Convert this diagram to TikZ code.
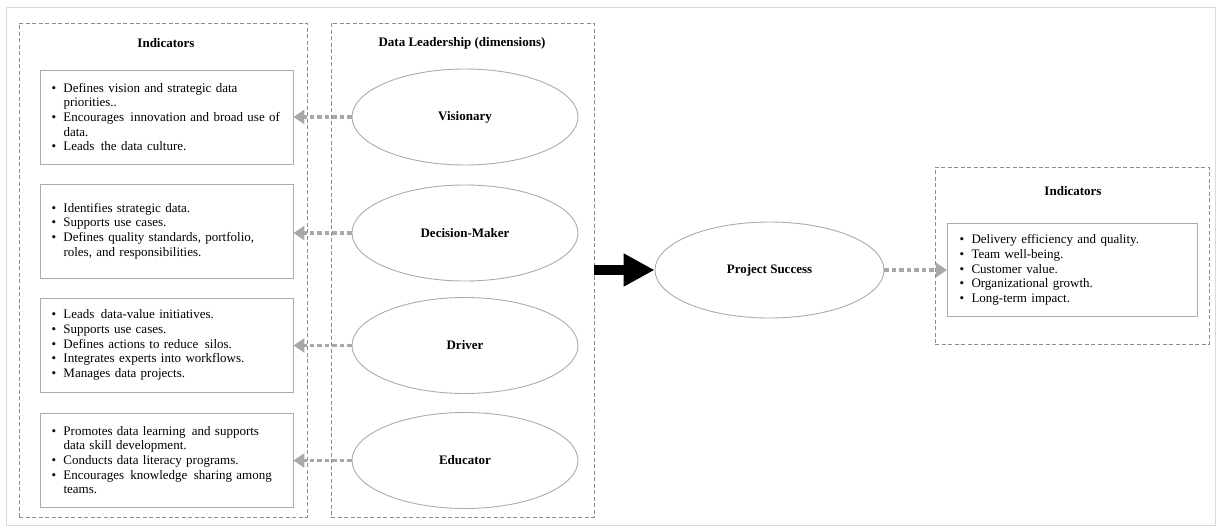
\documentclass[tikz,border=0pt]{standalone}
\usepackage{fontspec}
\setmainfont{Liberation Serif}
\usetikzlibrary{arrows.meta,shapes.geometric}
\definecolor{framegray}{HTML}{DADADA}
\definecolor{dashgray}{HTML}{8C8C8C}
\definecolor{boxgray}{HTML}{ABABAB}
\definecolor{arrowgray}{HTML}{A8A8A8}
% bulleted line, its continuation line, and a slightly wider word gap
\newcommand{\bl}[1]{\mbox{\makebox[12pt][l]{\textbullet}#1}}
\newcommand{\cl}[1]{\mbox{\hspace*{12pt}#1}}
\newcommand{\xs}{\hspace{2pt}}

\begin{document}
\begin{tikzpicture}[x=1pt,y=-1pt,
  every node/.style={font=\fontsize{13}{14.6}\selectfont},
  group/.style={draw=dashgray, dash pattern=on 4pt off 2.5pt, line width=0.8pt,
    rectangle, inner sep=0},
  listbox/.style={draw=boxgray, line width=0.9pt, rectangle, inner sep=0,
    minimum width=253pt, minimum height=94pt, text width=230pt, align=left},
  dim/.style={draw=boxgray, line width=0.9pt, ellipse, inner sep=0,
    minimum width=226pt, minimum height=96pt,
    font=\fontsize{13}{15}\selectfont\bfseries},
  title/.style={font=\fontsize{13}{15}\selectfont\bfseries},
  link/.style={draw=arrowgray, line width=3.5pt, dash pattern=on 4.5pt off 3pt,
    -{Triangle[length=11pt 0 0, width=14pt 0 0]}},
  push/.style={line width=10pt, -{Triangle[length=31pt 0 0, width=31pt 0 0]}}
]
\useasboundingbox (0,0) rectangle (1217,530);
\draw[framegray, line width=0.8pt] (6,7) rectangle (1215,525);

% dashed groups
\node[group, minimum width=288pt, minimum height=494pt] (g1) at (163,270) {};
\node[group, minimum width=263pt, minimum height=494pt] (g2) at (462.5,270) {};
\node[group, minimum width=274pt, minimum height=177pt] (g3) at (1072,255.5) {};

% titles
\node[title] (t1) at (166,43) {Indicators};
\node[title] (t2) at (462,43) {Data Leadership (dimensions)};
\node[title] (t3) at (1073,191) {Indicators};

% indicator lists
\node[listbox] (b1) at (166.5,117) {%
  \bl{Defines vision and strategic data}\\
  \cl{priorities..}\\
  \bl{Encourages\xs{} innovation and broad use of}\\
  \cl{data.}\\
  \bl{Leads\xs{} the data culture.}};
\node[listbox] (b2) at (166.5,231) {%
  \bl{Identifies strategic data.}\\
  \bl{Supports use cases.}\\
  \bl{Defines quality standards, portfolio,}\\
  \cl{roles, and responsibilities.}};
\node[listbox] (b3) at (166.5,345) {%
  \bl{Leads\xs{} data-value initiatives.}\\
  \bl{Supports use cases.}\\
  \bl{Defines actions to reduce\xs{} silos.}\\
  \bl{Integrates experts into workflows.}\\
  \bl{Manages data projects.}};
\node[listbox] (b4) at (166.5,460) {%
  \bl{Promotes data learning\xs{} and supports}\\
  \cl{data skill development.}\\
  \bl{Conducts data literacy programs.}\\
  \bl{Encourages\xs{} knowledge\xs{} sharing among}\\
  \cl{teams.}};

% leadership dimensions
\node[dim] (vis) at (465,117) {Visionary};
\node[dim] (dec) at (465,233) {Decision-Maker};
\node[dim] (drv) at (465,345.5) {Driver};
\node[dim] (edu) at (465,460.5) {Educator};

% outcome
\node[dim, minimum width=229pt] (ps) at (769.5,270) {Project Success};
\node[listbox, minimum width=250pt, minimum height=93pt, text width=226pt] (rb) at (1072.5,270) {%
  \bl{Delivery efficiency and quality.}\\
  \bl{Team well-being.}\\
  \bl{Customer value.}\\
  \bl{Organizational growth.}\\
  \bl{Long-term impact.}};

% connectors
\draw[link] (vis.west) -- (vis.west -| b1.east);
\draw[link] (dec.west) -- (dec.west -| b2.east);
\draw[link] (drv.west) -- (drv.west -| b3.east);
\draw[link] (edu.west) -- (edu.west -| b4.east);
\draw[push] (g2.east |- ps.west) -- (ps.west);
\draw[link] (ps.east) -- (rb.west);
\end{tikzpicture}
\end{document}
